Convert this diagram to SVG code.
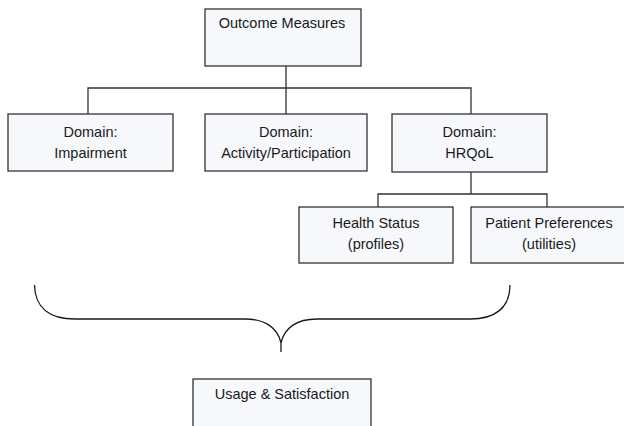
<svg xmlns="http://www.w3.org/2000/svg" width="624" height="426" viewBox="0 0 624 426">
<style>
.box{fill:#f7f8fc;stroke:#333;stroke-width:1.3}
.t{font-family:"Liberation Sans",Arial,sans-serif;font-size:14.5px;fill:#1a1a1a;text-anchor:middle}
.c{fill:none;stroke:#333;stroke-width:1.3}
.b{fill:none;stroke:#1a1a1a;stroke-width:1.3}
</style>
<rect width="624" height="426" fill="#fff"/>
<g id="connectors">
<path class="c" d="M286,66 V114 M88,114 V88 H471 V114 M471,172 V194 M378,207 V194 H547 V207"/>
</g>
<g id="outcome"><rect class="box" x="205" y="9" width="156" height="57"/><text class="t" x="282" y="28">Outcome Measures</text></g>
<g id="impairment"><rect class="box" x="8" y="114" width="165" height="57"/><text class="t" x="90.5" y="137">Domain:</text><text class="t" x="90.5" y="158">Impairment</text></g>
<g id="activity"><rect class="box" x="205" y="114" width="162" height="57"/><text class="t" x="286" y="137">Domain:</text><text class="t" x="286" y="158">Activity/Participation</text></g>
<g id="hrqol"><rect class="box" x="392" y="114" width="155" height="58"/><text class="t" x="469.5" y="137">Domain:</text><text class="t" x="469.5" y="158">HRQoL</text></g>
<g id="health"><rect class="box" x="299" y="207" width="154" height="56"/><text class="t" x="376" y="228">Health Status</text><text class="t" x="376" y="249">(profiles)</text></g>
<g id="patient"><rect class="box" x="471" y="207" width="156" height="56"/><text class="t" x="549" y="228">Patient Preferences</text><text class="t" x="549" y="249">(utilities)</text></g>
<g id="brace"><path class="b" d="M34.5,285 C35,308 50,319 75,319 L245,319 C265,319 278,328 281,343 L281,352 M281,343 C284,328 297,319 317,319 L470,319 C495,319 510,308 510,285"/></g>
<g id="usage"><rect class="box" x="193" y="379" width="178" height="60"/><text class="t" x="282" y="399">Usage &amp; Satisfaction</text></g>
</svg>
